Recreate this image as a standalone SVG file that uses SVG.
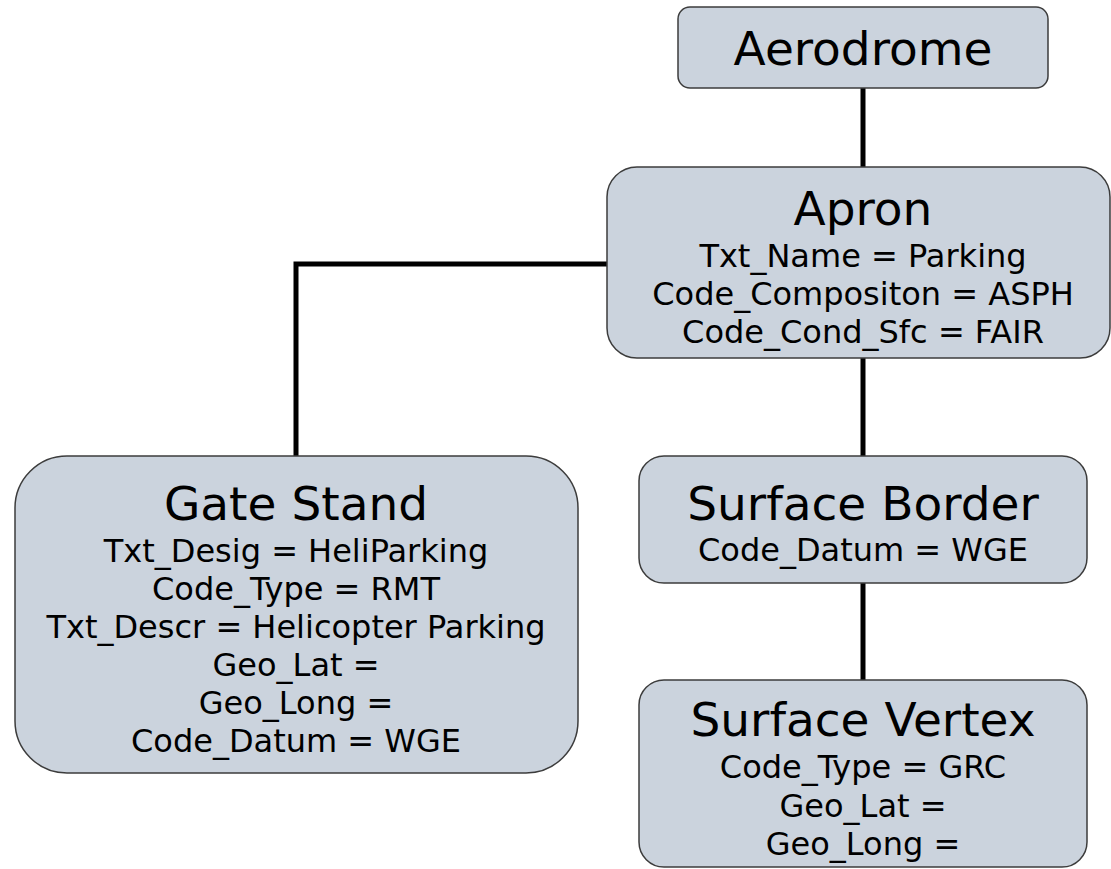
<svg xmlns="http://www.w3.org/2000/svg" width="1111" height="869" viewBox="0 0 1111 869">
<style>
.box{fill:#cbd3dd;stroke:#3c3c3c;stroke-width:1.5}
.t{font-family:"DejaVu Sans",Verdana,sans-serif;fill:#000;text-anchor:middle}
.h{font-size:47px}
.s{font-size:32px}
.c{stroke:#000;stroke-width:5;fill:none}
</style>
<rect width="1111" height="869" fill="#fff"/>
<g id="connectors">
<line class="c" x1="863" y1="88" x2="863" y2="167"/>
<polyline class="c" points="607,264 296,264 296,457"/>
<line class="c" x1="863" y1="358" x2="863" y2="457"/>
<line class="c" x1="863" y1="583" x2="863" y2="680"/>
</g>
<g id="aerodrome">
<rect class="box" x="678" y="7" width="370" height="81" rx="12"/>
<text class="t h" x="863" y="65">Aerodrome</text>
</g>
<g id="apron">
<rect class="box" x="607" y="167" width="503" height="191" rx="30"/>
<text class="t h" x="863" y="225">Apron</text>
<text class="t s" x="863" y="267">Txt_Name = Parking</text>
<text class="t s" x="863" y="305">Code_Compositon = ASPH</text>
<text class="t s" x="863" y="343">Code_Cond_Sfc = FAIR</text>
</g>
<g id="gate-stand">
<rect class="box" x="15" y="456" width="563" height="317" rx="52"/>
<text class="t h" x="296" y="520">Gate Stand</text>
<text class="t s" x="296" y="562">Txt_Desig = HeliParking</text>
<text class="t s" x="296" y="600">Code_Type = RMT</text>
<text class="t s" x="296" y="638">Txt_Descr = Helicopter Parking</text>
<text class="t s" x="296" y="676">Geo_Lat =</text>
<text class="t s" x="296" y="714">Geo_Long =</text>
<text class="t s" x="296" y="752">Code_Datum = WGE</text>
</g>
<g id="surface-border">
<rect class="box" x="639" y="456" width="448" height="127" rx="25"/>
<text class="t h" x="863" y="520">Surface Border</text>
<text class="t s" x="863" y="561">Code_Datum = WGE</text>
</g>
<g id="surface-vertex">
<rect class="box" x="639" y="680" width="448" height="187" rx="25"/>
<text class="t h" x="863" y="736">Surface Vertex</text>
<text class="t s" x="863" y="778">Code_Type = GRC</text>
<text class="t s" x="863" y="817">Geo_Lat =</text>
<text class="t s" x="863" y="855">Geo_Long =</text>
</g>
</svg>
